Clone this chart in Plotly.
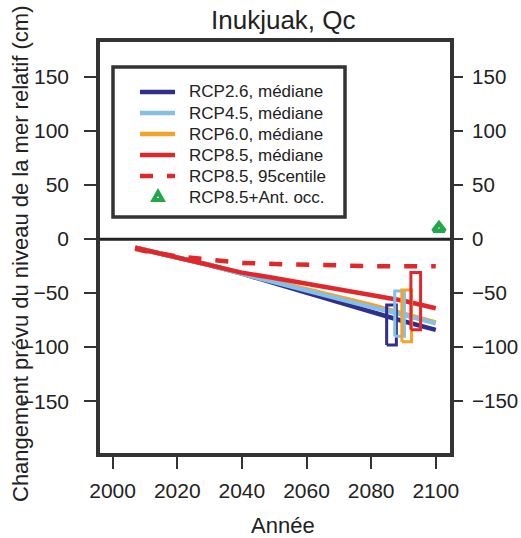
import plotly.graph_objects as go

# ---- data ----
years = [2007, 2010, 2020, 2030, 2040, 2050, 2060, 2070, 2080, 2090, 2100]
rcp26_med = [-8, -10, -17, -24, -32, -41, -50, -58, -67, -76, -84]
rcp45_med = [-8, -10, -17, -24, -32, -40, -47, -55, -63, -70, -78]
rcp60_med = [-8, -10, -17, -24, -32, -39, -46, -54, -61, -69, -77]
rcp85_med = [-8, -10, -17, -24, -31, -36, -41, -46, -51, -57, -64]
rcp85_p95 = [-9, -11, -16, -19, -22, -23, -24, -25, -25, -25, -25]

scenarios = ["RCP2.6", "RCP4.5", "RCP6.0", "RCP8.5"]
box_x0 = [2084.8, 2087.3, 2089.5, 2092.3]
box_x1 = [2087.8, 2090.3, 2092.5, 2095.3]
box_lo = [-98, -90, -95, -84]
box_hi = [-61, -48, -47, -31]

ant_year = [2101]
ant_value = [10]

legend_labels = ["RCP2.6, médiane", "RCP4.5, médiane", "RCP6.0, médiane",
                 "RCP8.5, médiane", "RCP8.5, 95centile", "RCP8.5+Ant. occ."]

colors = {"RCP2.6": "#2e2f8e", "RCP4.5": "#86bfe6", "RCP6.0": "#f3a32a", "RCP8.5": "#e0282c"}
green = "#22a84a"
FONT = "Liberation Sans, Arial, Helvetica, sans-serif"
INK = "#222222"
DASH = "13px,14px"

fig = go.Figure()

fig.add_trace(go.Scatter(x=years, y=rcp26_med, mode="lines", line=dict(color=colors["RCP2.6"], width=4.5)))
fig.add_trace(go.Scatter(x=years, y=rcp60_med, mode="lines", line=dict(color=colors["RCP6.0"], width=4.5)))
fig.add_trace(go.Scatter(x=years, y=rcp45_med, mode="lines", line=dict(color=colors["RCP4.5"], width=4.5)))
fig.add_trace(go.Scatter(x=years, y=rcp85_med, mode="lines", line=dict(color=colors["RCP8.5"], width=4.5)))
fig.add_trace(go.Scatter(x=years, y=rcp85_p95, mode="lines",
                         line=dict(color=colors["RCP8.5"], width=4.5, dash=DASH)))

for s, x0, x1, lo, hi in zip(scenarios, box_x0, box_x1, box_lo, box_hi):
    fig.add_trace(go.Scatter(x=[x0, x1, x1, x0, x0], y=[lo, lo, hi, hi, lo], mode="lines",
                             line=dict(color=colors[s], width=3), hoverinfo="skip"))

fig.add_trace(go.Scatter(x=ant_year, y=ant_value, mode="markers",
                         marker=dict(symbol="triangle-up", size=10, color="white",
                                     line=dict(color=green, width=4.5)),
                         cliponaxis=False))

yr = [-198, 182.5]
tickvals_y = [-150, -100, -50, 0, 50, 100, 150]

fig.update_layout(
    template="none",
    width=521, height=538,
    margin=dict(l=100, r=71, t=42, b=85, autoexpand=False),
    paper_bgcolor="white", plot_bgcolor="white",
    font=dict(family=FONT, color=INK, size=21),
    showlegend=False,
    xaxis=dict(range=[1996.1, 2104.4], tickvals=[2000, 2020, 2040, 2060, 2080, 2100],
               showgrid=False, zeroline=False, showline=True, linecolor="#333333", linewidth=3.5,
               mirror=True, ticks="outside", ticklen=12, tickwidth=2, tickcolor="#333333",
               tickfont=dict(size=21), ticklabelstandoff=4, automargin=False),
    yaxis=dict(range=yr, tickvals=tickvals_y, showgrid=False, zeroline=False,
               showline=True, linecolor="#333333", linewidth=3.5, mirror=True,
               ticks="outside", ticklen=12, tickwidth=2, tickcolor="#333333",
               tickfont=dict(size=21), ticklabelstandoff=11, automargin=False),
    yaxis2=dict(range=yr, tickvals=tickvals_y, overlaying="y", side="right",
                showgrid=False, zeroline=False, showline=False,
                ticks="outside", ticklen=12, tickwidth=2, tickcolor="#333333",
                tickfont=dict(size=20.5), ticklabelstandoff=5, automargin=False),
)

# dummy trace to activate right axis
fig.add_trace(go.Scatter(x=[years[0]], y=[rcp26_med[0]], yaxis="y2", mode="markers",
                         marker=dict(opacity=0), hoverinfo="skip"))

# zero line
fig.add_shape(type="line", xref="paper", yref="y", x0=0, x1=1, y0=0, y1=0,
              line=dict(color="#222222", width=3), layer="below")


def px_x(p):
    return (p - 100) / 350


def px_y(p):
    return 1 - (p - 42) / 411


# legend frame
fig.add_shape(type="rect", xref="paper", yref="paper",
              x0=px_x(113), x1=px_x(345), y0=px_y(217), y1=px_y(67),
              line=dict(color="#333333", width=3.5), fillcolor="white", layer="below")

leg_styles = [(colors["RCP2.6"], "solid"), (colors["RCP4.5"], "solid"), (colors["RCP6.0"], "solid"),
              (colors["RCP8.5"], "solid"), (colors["RCP8.5"], DASH), None]
for i, (lab, sty) in enumerate(zip(legend_labels, leg_styles)):
    yc = 92 + 21 * i
    if sty is not None:
        fig.add_shape(type="line", xref="paper", yref="paper", x0=px_x(140), x1=px_x(175),
                      y0=px_y(yc), y1=px_y(yc), line=dict(color=sty[0], width=4.5, dash=sty[1]))
    else:
        fig.add_shape(type="path", xref="paper", yref="paper", xsizemode="pixel", ysizemode="pixel",
                      xanchor=px_x(158), yanchor=px_y(yc),
                      path="M -4.5,-3 L 4.5,-3 L 0,5 Z",
                      line=dict(color=green, width=4), fillcolor="white")
    fig.add_annotation(text=lab, xref="paper", yref="paper", x=px_x(187), y=px_y(yc),
                       xanchor="left", yanchor="middle", showarrow=False,
                       font=dict(size=17, family=FONT, color=INK))

fig.add_annotation(text="Inukjuak, Qc", xref="paper", yref="paper",
                   x=px_x(283.5), y=px_y(20), xanchor="center", yanchor="middle",
                   showarrow=False, font=dict(size=26, family=FONT, color=INK))
fig.add_annotation(text="Année", xref="paper", yref="paper",
                   x=px_x(283.3), y=px_y(525), xanchor="center", yanchor="middle",
                   showarrow=False, font=dict(size=22, family=FONT, color=INK))
fig.add_annotation(text="Changement prévu du niveau de la mer relatif (cm)", xref="paper", yref="paper",
                   x=px_x(20), y=px_y(254), xanchor="center", yanchor="middle",
                   textangle=-90, showarrow=False, font=dict(size=22, family=FONT, color=INK))

fig.write_html("out.html")
